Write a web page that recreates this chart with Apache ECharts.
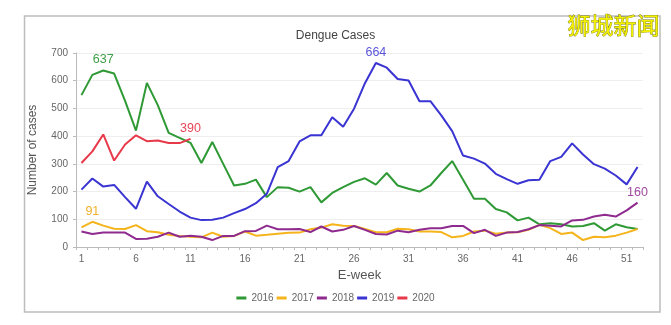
<!DOCTYPE html>
<html>
<head>
<meta charset="utf-8">
<script src="https://cdn.jsdelivr.net/npm/echarts@6/dist/echarts.min.js"></script>
<style>
html,body{margin:0;padding:0;background:#fff;}
#chart{width:671px;height:325px;}
</style>
</head>
<body>
<div id="chart"></div>
<script>
const weeks = Array.from({length: 52}, (_, i) => String(i + 1));
const seriesNames = ['2016', '2017', '2018', '2019', '2020'];
const y2016 = [548,621,637,626,527,420,592,512,412,394, 376,303,379,300,222,228,243,180,216,214, 200,216,161,195,216,235,248,225,267,222, 210,200,222,267,310,243,174,174,137,125, 96,106,82,86,82,74,76,86,59,82, 71,65];
const y2017 = [71,91,77,66,65,79,57,53,44,40, 37,35,52,37,40,56,41,44,48,51, 52,64,70,82,77,76,65,53,53,66, 64,56,56,54,35,40,56,59,48,52, 53,62,80,68,47,52,25,37,35,41, 52,65];
const y2018 = [56,47,52,52,52,29,30,37,52,37, 41,37,25,40,40,57,58,77,64,64, 65,54,74,56,62,76,62,47,45,59, 53,62,68,68,76,76,50,62,40,52, 54,64,79,77,74,96,98,110,116,110, 132,160];
const y2019 = [207,247,218,224,180,138,236,183,155,128, 106,97,98,106,122,137,158,192,288,310, 381,403,403,468,434,499,591,664,647,606, 601,526,526,475,418,330,319,301,264,245, 228,241,243,310,325,374,334,299,283,258, 226,289];
const y2020 = [303,345,406,312,370,403,382,384,375,375,390];
const labelWeeks = [3, 2, 52, 28, 11];
const yTicks = [0, 100, 200, 300, 400, 500, 600, 700];

const allData = [y2016, y2017, y2018, y2019, y2020];
const colors = ['#2f9a35', '#f5b41c', '#8f2a8f', '#3a34d2', '#e8394a'];
const labelColors = ['#3fa04a', '#efb02a', '#a04aa0', '#5a55d8', '#e84656'];

const chart = echarts.init(document.getElementById('chart'));
const font = 'Liberation Sans, Arial, sans-serif';

const series = seriesNames.map((name, si) => ({
  name: name,
  type: 'line',
  showSymbol: true,
  symbol: 'circle',
  symbolSize: 0,
  color: colors[si],
  lineStyle: {width: 2, color: colors[si]},
  label: {show: false},
  data: allData[si].map((v, i) => (i + 1 === labelWeeks[si]) ? {
    value: v,
    label: {show: true, position: 'top', distance: 4, color: labelColors[si], fontSize: 12.5, fontFamily: font}
  } : v),
  z: 2 + si
}));

chart.setOption({
  animation: false,
  backgroundColor: '#fff',
  title: {
    text: 'Dengue Cases',
    left: 'center',
    top: 30,
    padding: 0,
    textStyle: {fontSize: 12, fontWeight: 'normal', color: '#444', fontFamily: font}
  },
  legend: {
    data: seriesNames,
    top: 288,
    left: 'center',
    icon: 'rect',
    itemWidth: 10,
    itemHeight: 3,
    itemGap: 3,
    textStyle: {fontSize: 10, color: '#666', fontFamily: font}
  },
  grid: {left: 76, right: 28, top: 53, bottom: 78},
  xAxis: {
    type: 'category',
    data: weeks,
    boundaryGap: true,
    name: 'E-week',
    nameLocation: 'middle',
    nameGap: 21,
    nameTextStyle: {fontSize: 13, color: '#555', fontFamily: font},
    axisLine: {lineStyle: {color: '#bbb'}},
    axisTick: {show: true, length: 3, interval: 0, lineStyle: {color: '#bbb'}},
    axisLabel: {interval: 4, margin: 7, fontSize: 10, color: '#666', fontFamily: font},
    splitLine: {show: false}
  },
  yAxis: {
    type: 'value',
    min: yTicks[0],
    max: yTicks[yTicks.length - 1],
    interval: 100,
    name: 'Number of cases',
    nameLocation: 'middle',
    nameGap: 37,
    nameTextStyle: {fontSize: 12, color: '#555', fontFamily: font},
    axisLine: {show: true, lineStyle: {color: '#bbb'}},
    axisTick: {show: true, length: 3, lineStyle: {color: '#bbb'}},
    axisLabel: {margin: 8, fontSize: 10, color: '#666', fontFamily: font},
    splitLine: {lineStyle: {color: '#eee'}}
  },
  series: series,
  graphic: [
    {
      type: 'rect',
      shape: {x: 24.5, y: 16, width: 635.5, height: 296},
      style: {fill: 'none', stroke: '#bdbdbd', lineWidth: 1.5},
      silent: true,
      z: 0
    },
    {
      type: 'text',
      left: 567,
      top: 13,
      style: {
        text: '狮城新闻',
        fontSize: 23,
        fontFamily: 'Noto Sans CJK SC',
        fill: '#f3f000',
        stroke: '#7a7a10',
        lineWidth: 0.8
      },
      z: 100
    }
  ]
});
</script>
</body>
</html>
